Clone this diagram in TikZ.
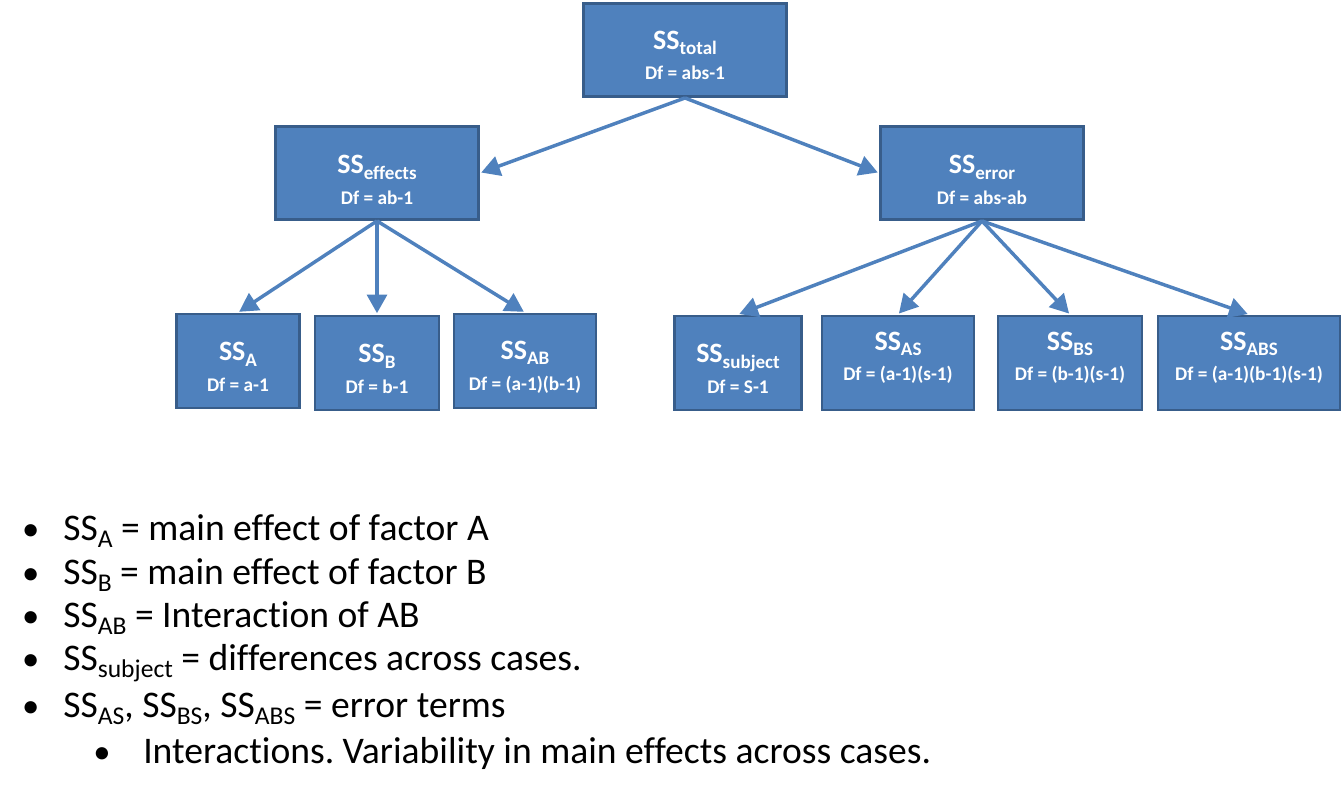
\documentclass[tikz,border=0pt]{standalone}
\usepackage{fontspec}
\setmainfont{Carlito}[Ligatures=NoCommon]
\usetikzlibrary{arrows.meta}
\definecolor{boxfill}{HTML}{4F81BD}
\definecolor{boxline}{HTML}{385D8A}
\frenchspacing
\newcommand\sub[1]{\raisebox{-0.2em}{\scalebox{0.68}{#1}}}
\newcommand\sstext[2]{{\fontsize{21}{23}\selectfont SS\sub{#1}}\\{\fontsize{14.5}{23}\selectfont Df = #2}}
\newcommand\bull[2]{\llap{\fontsize{26}{26}\selectfont •\hspace{#1}}#2}
\begin{document}
\begin{tikzpicture}[x=0.75pt,y=-0.75pt]
\def\px{0.75pt}
\tikzset{
ss/.style={draw=boxline,fill=boxfill,line width=2.2pt},
txt/.style={text=white,font=\bfseries\fontsize{14.5}{23}\selectfont,align=center,inner sep=0pt},
top/.style={ss,minimum width=203*\px,minimum height=93*\px},
low/.style={ss,minimum height=94*\px},
every path/.style={>={Triangle[length=14pt,width=15pt]}},
link/.style={->,draw=boxfill,line width=2.6pt,shorten >=1pt},
item/.style={anchor=base west,inner sep=0pt,font=\fontsize{28.2}{30}\selectfont}}
\useasboundingbox (0,0) rectangle (1344,795);
% tree
\node[top,label={[txt,yshift=-4pt]center:{\sstext{total}{abs-1}}}] at (685,50) (tot) {};
\node[top,label={[txt,yshift=-5pt]center:{\sstext{effects}{ab-1}}}] at (377,173) (eff) {};
\node[top,label={[txt,yshift=-5pt]center:{\sstext{error}{abs-ab}}}] at (982,173) (err) {};
\node[low,minimum width=123*\px,label={[txt,yshift=-4.5pt]center:{\sstext{A}{a-1}}}] at (238,361) (A) {};
\node[low,minimum width=124*\px,label={[txt,yshift=-4.5pt]center:{\sstext{B}{b-1}}}] at (377,363) (B) {};
\node[low,minimum width=142*\px,label={[txt,yshift=-4.5pt]center:{\sstext{AB}{(a-1)(b-1)}}}] at (525,361) (AB) {};
\node[low,minimum width=127*\px,label={[txt,yshift=-4.5pt]center:{\sstext{subject}{S-1}}}] at (738,363) (subj) {};
\node[low,minimum width=152*\px,label={[txt,yshift=4pt]center:{\sstext{AS}{(a-1)(s-1)}}}] at (898,363) (AS) {};
\node[low,minimum width=144*\px,label={[txt,yshift=4pt]center:{\sstext{BS}{(b-1)(s-1)}}}] at (1070,363) (BS) {};
\node[low,minimum width=182*\px,label={[txt,yshift=4pt]center:{\sstext{ABS}{(a-1)(b-1)(s-1)}}}] at (1249,363) (ABS) {};
\path[link] (tot.south) -- (eff.east);
\path[link] (tot.south) -- (err.west);
\foreach \n in {A,B,AB} \path[link] (eff.south) -- (\n.north);
\foreach \n in {subj,AS,BS,ABS} \path[link] (err.south) -- (\n.north);
% list
\node[item] at (63,540) (b1) {\bull{18pt}{SS\sub{A} = main effect of factor A}};
\node[item] at (63,584) (b2) {\bull{18pt}{SS\sub{B} = main effect of factor B}};
\node[item] at (63,627) (b3) {\bull{18pt}{SS\sub{AB} = Interaction of AB}};
\node[item] at (63,670) (b4) {\bull{18pt}{SS\sub{subject} = differences across cases.}};
\node[item] at (63,717) (b5) {\bull{18pt}{SS\sub{AS}, SS\sub{BS}, SS\sub{ABS} = error terms}};
\node[item] at (143,763) (b6) {\bull{24.5pt}{Interactions. Variability in main effects across cases.}};
\end{tikzpicture}
\end{document}
